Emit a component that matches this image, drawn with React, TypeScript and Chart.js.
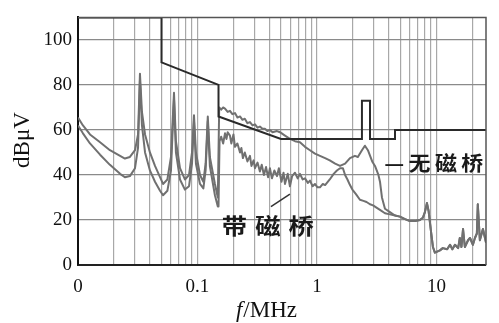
import React, { useEffect, useRef } from 'react';
import { Chart, registerables } from 'chart.js';

Chart.register(...registerables);

// ---------- data ----------
const LIMIT_F = [0.01, 0.05, 0.05, 0.15, 0.15, 0.5, 2.38, 2.38, 2.78, 2.78, 4.5, 4.5, 26];
const LIMIT_DB = [110, 110, 90, 80, 66, 56, 56, 73, 73, 56, 56, 60, 60];

// 无磁桥
const FREQ_A = [
  0.01, 0.011, 0.0126, 0.0153, 0.0185, 0.0225, 0.0247, 0.0272, 0.03, 0.0318, 0.033, 0.0343, 0.0364, 0.04, 0.0441,
  0.0486, 0.0515, 0.056, 0.06, 0.0636, 0.066, 0.0714, 0.0785, 0.085, 0.09, 0.0935, 0.0971, 0.105, 0.112, 0.117,
  0.122, 0.127, 0.14, 0.148,
  0.152, 0.158, 0.164, 0.17, 0.179, 0.187, 0.196, 0.206, 0.216, 0.227, 0.238, 0.249, 0.262, 0.275, 0.289, 0.303,
  0.318, 0.333, 0.35, 0.367, 0.385, 0.404, 0.425, 0.463, 0.49, 0.54, 0.594, 0.655, 0.721, 0.794, 0.874, 0.962,
  1.06, 1.17, 1.28, 1.42, 1.56, 1.72, 1.89, 2.08, 2.2, 2.38, 2.52, 2.67, 2.9, 3.06, 3.27, 3.37, 3.5, 3.71, 4.08,
  4.5, 4.95, 5.4, 6.0, 6.6, 7.28, 7.7, 8.01, 8.33, 8.6, 9.0, 9.35, 9.71, 10.7, 11.3, 12.3, 13.0, 13.6, 14.3, 15.2,
  15.7, 16.2, 16.7, 17.3, 18.4, 19.1, 20.2, 21.0, 21.8, 22.2, 23.1, 24.5, 25.5, 26,
];
const DB_A = [
  65.5, 62, 58, 54.5, 51, 48.5, 47.3, 48, 51, 58, 85, 68, 58, 50, 44,
  39, 36, 38, 48, 76.5, 55, 43, 38, 40, 50, 66.5, 50, 40, 37, 45,
  66, 48, 36, 30,
  70, 69, 70, 69.5, 68, 68.5, 67, 67.5, 65.5, 66, 64.5, 65, 63, 63.5, 62, 62.5,
  61, 61.5, 60.5, 60.5, 59.5, 60, 59, 59.5, 59, 57.5, 56, 55, 54.5, 52.5, 51, 49.5,
  48.5, 47.5, 46.5, 45, 44, 45, 47.5, 48.5, 48, 51, 53, 51, 46, 44, 40, 37, 30, 25, 23.5,
  22, 21.5, 20.5, 19.5, 19.5, 20, 21, 23.5, 27.5, 24, 15, 8, 5.5, 6.5, 7.5, 7, 9, 7, 9, 7.5,
  12, 8, 16, 8, 11, 12, 9, 12, 14, 27, 11, 16, 12, 10,
];

// 带磁桥
const FREQ_B = [
  0.01, 0.011, 0.0126, 0.0153, 0.0185, 0.0225, 0.0247, 0.0272, 0.03, 0.0318, 0.033, 0.0343, 0.0364, 0.04, 0.0441,
  0.0486, 0.0515, 0.056, 0.06, 0.0636, 0.066, 0.0714, 0.0785, 0.085, 0.09, 0.0935, 0.0971, 0.105, 0.112, 0.117,
  0.122, 0.127, 0.14, 0.148, 0.15,
  0.153, 0.158, 0.164, 0.17, 0.175, 0.179, 0.187, 0.192, 0.2, 0.206, 0.216, 0.227, 0.233, 0.24, 0.249, 0.262,
  0.275, 0.283, 0.295, 0.303, 0.318, 0.333, 0.345, 0.36, 0.375, 0.39, 0.404, 0.42, 0.44, 0.463, 0.48, 0.505,
  0.525, 0.54, 0.57, 0.594, 0.62, 0.655, 0.69, 0.721, 0.76, 0.794, 0.84, 0.874, 0.92, 0.962, 1.01, 1.06, 1.12,
  1.17, 1.28, 1.38, 1.47, 1.56, 1.65, 1.72, 1.8, 1.89, 1.98, 2.12, 2.29, 2.45, 2.6, 2.78, 2.95, 3.15, 3.37, 3.71,
  4.08,
  4.5, 4.95, 5.4, 6.0, 6.6, 7.28, 7.7, 8.01, 8.33, 8.6, 9.0, 9.35, 9.71, 10.7, 11.3, 12.3, 13.0, 13.6, 14.3, 15.2,
  15.7, 16.2, 16.7, 17.3, 18.4, 19.1, 20.2, 21.0, 21.8, 22.2, 23.1, 24.5, 25.5, 26,
];
const DB_B = [
  62, 58.5, 54, 49, 44.5, 40.5, 39, 39.5, 43, 52, 82, 62, 50, 42, 37,
  33, 31, 33, 42, 74, 50, 38, 33.5, 35, 45, 64, 45, 36, 34, 42,
  64, 44, 31, 26, 26,
  55, 57, 54, 58.5, 56, 59, 57.5, 54, 58, 52.5, 54, 50, 52, 47.5, 50, 46,
  48.5, 44, 46.5, 43, 45.5, 41.5, 44.5, 40, 43.5, 39, 43, 38.5, 42, 39.5, 43, 37,
  41, 36, 40.5, 35, 39.5, 41, 38.5, 40.5, 38, 38.5, 36.5, 37.5, 35, 36, 34.5, 34.5, 36,
  35.5, 38, 40.5, 42, 43, 43, 40, 38, 35.5, 33.5, 31.5, 29, 28.5, 28, 27, 26.5, 25.5, 24.5, 23,
  22.5,
  22, 21.5, 20.5, 19.5, 19.5, 20, 21, 23.5, 27.5, 24, 15, 8, 5.5, 6.5, 7.5, 7, 9, 7, 9, 7.5,
  12, 8, 16, 8, 11, 12, 9, 12, 14, 27, 11, 16, 12, 10,
];

const Y_TICKS = [0, 20, 40, 60, 80, 100];
const X_LABEL_VALUES = [0.01, 0.1, 1, 10];
const X_LABEL_TEXT = ['0', '0.1', '1', '10'];
const X_GRID_DECADES = [0.01, 0.1, 1, 10];
const Y_TITLE = 'dBμV';
const X_TITLE_ITALIC = 'f';
const X_TITLE_REST = '/MHz';
const LABEL_A = '—无磁桥';
const LABEL_B = '带磁桥';

const toPts = (xs: number[], ys: number[]) => xs.map((x, i) => ({ x, y: ys[i] }));

const overlay = {
  id: 'overlay',
  afterDraw(chart: any) {
    const { ctx, chartArea: a, scales } = chart;
    const xs = scales.x;
    const ys = scales.y;
    ctx.save();
    // top & right frame
    ctx.strokeStyle = '#555';
    ctx.lineWidth = 1.5;
    ctx.beginPath();
    ctx.moveTo(a.left, a.top);
    ctx.lineTo(a.right, a.top);
    ctx.lineTo(a.right, a.bottom);
    ctx.stroke();

    ctx.fillStyle = '#111';
    // y title
    ctx.save();
    ctx.font = '23px "Liberation Serif"';
    ctx.textAlign = 'center';
    ctx.textBaseline = 'middle';
    ctx.translate(23, 140);
    ctx.rotate(-Math.PI / 2);
    ctx.fillText(Y_TITLE, 0, 0);
    ctx.restore();

    // x title with italic f
    ctx.textBaseline = 'alphabetic';
    ctx.textAlign = 'left';
    ctx.font = 'italic 23px "Liberation Serif"';
    const w1 = ctx.measureText(X_TITLE_ITALIC).width;
    ctx.font = '23px "Liberation Serif"';
    const w2 = ctx.measureText(X_TITLE_REST).width;
    const sx = 266 - (w1 + w2) / 2;
    ctx.font = 'italic 23px "Liberation Serif"';
    ctx.fillText(X_TITLE_ITALIC, sx, 317);
    ctx.font = '23px "Liberation Serif"';
    ctx.fillText(X_TITLE_REST, sx + w1 + 1, 317);

    // annotations
    ctx.fillStyle = '#1a1a1a';
    ctx.textBaseline = 'middle';
    ctx.save();
    ctx.translate(xs.getPixelForValue(3.65), ys.getPixelForValue(45));
    ctx.scale(1.1, 1);
    ctx.font = 'bold 20px "Noto Sans CJK SC"';
    (ctx as any).letterSpacing = '4px';
    ctx.fillText(LABEL_A, 0, 0);
    ctx.restore();

    ctx.save();
    ctx.translate(xs.getPixelForValue(0.16), ys.getPixelForValue(17.3));
    ctx.scale(1.15, 1);
    ctx.font = 'bold 22px "Noto Sans CJK SC"';
    (ctx as any).letterSpacing = '7px';
    ctx.fillText(LABEL_B, 0, 0);
    ctx.restore();

    // pointer for 带磁桥
    ctx.strokeStyle = '#333';
    ctx.lineWidth = 1.5;
    ctx.beginPath();
    ctx.moveTo(xs.getPixelForValue(0.412), ys.getPixelForValue(25.9));
    ctx.lineTo(xs.getPixelForValue(0.594), ys.getPixelForValue(31.5));
    ctx.stroke();
    ctx.restore();
  },
};

export default function App() {
  const ref = useRef<HTMLCanvasElement | null>(null);
  useEffect(() => {
    if (!ref.current) return;
    const gridVals: number[] = [];
    X_GRID_DECADES.forEach((d) => {
      for (let k = 1; k <= 9; k++) {
        const v = +(d * k).toPrecision(6);
        if (v <= 26) gridVals.push(v);
      }
    });
    const chart = new Chart(ref.current, {
      type: 'line',
      data: {
        datasets: [
          {
            label: 'limit',
            data: toPts(LIMIT_F, LIMIT_DB),
            borderColor: '#2a2a2a',
            borderWidth: 2,
            pointRadius: 0,
            tension: 0,
          },
          {
            label: '无磁桥',
            data: toPts(FREQ_A, DB_A),
            borderColor: '#707070',
            borderWidth: 2,
            pointRadius: 0,
            tension: 0,
            borderJoinStyle: 'round',
          },
          {
            label: '带磁桥',
            data: toPts(FREQ_B, DB_B),
            borderColor: '#707070',
            borderWidth: 2,
            pointRadius: 0,
            tension: 0,
            borderJoinStyle: 'round',
          },
        ],
      },
      options: {
        animation: false,
        responsive: false,
        events: [],
        layout: { padding: { top: 10, right: 13, left: 0, bottom: 0 } },
        plugins: { legend: { display: false }, tooltip: { enabled: false } },
        scales: {
          x: {
            type: 'logarithmic',
            min: 0.01,
            max: 26,
            afterBuildTicks: (s: any) => {
              s.ticks = gridVals.map((v) => ({ value: v }));
            },
            afterFit: (s: any) => {
              s.height = 58;
            },
            grid: { color: '#a8a8a8', lineWidth: 1.2, drawTicks: false },
            border: { display: true, color: '#222', width: 2 },
            ticks: {
              autoSkip: false,
              maxRotation: 0,
              padding: 11,
              color: '#111',
              font: { family: '"Liberation Serif"', size: 19 },
              callback: (v: any) => {
                const i = X_LABEL_VALUES.findIndex((t) => Math.abs(t - v) < t * 1e-6);
                return i >= 0 ? X_LABEL_TEXT[i] : '';
              },
            },
          },
          y: {
            type: 'linear',
            min: 0,
            max: 110,
            afterBuildTicks: (s: any) => {
              s.ticks = Y_TICKS.map((v) => ({ value: v }));
            },
            afterFit: (s: any) => {
              s.width = 78;
            },
            grid: { color: '#8a8a8a', lineWidth: 1.3, drawTicks: false },
            border: { display: true, color: '#111', width: 2 },
            ticks: {
              padding: 6,
              color: '#111',
              font: { family: '"Liberation Serif"', size: 19 },
            },
          },
        },
      },
      plugins: [overlay],
    });
    return () => chart.destroy();
  }, []);
  return (
    <div style={{ position: 'fixed', left: 0, top: 0, width: 499, height: 323, background: '#fff' }}>
      <canvas ref={ref} width={499} height={323} style={{ display: 'block' }} />
    </div>
  );
}
